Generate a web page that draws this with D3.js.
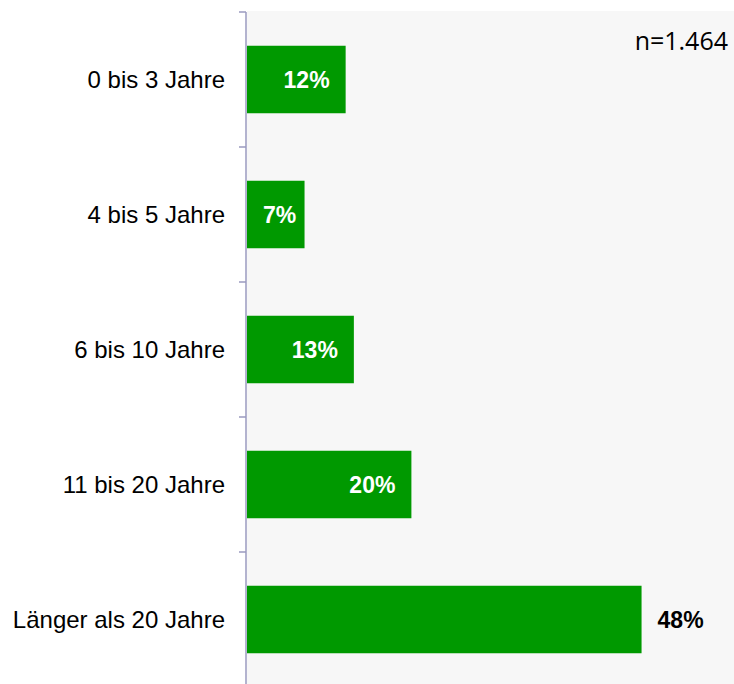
<!DOCTYPE html>
<html>
<head>
<meta charset="utf-8">
<script src="https://cdn.jsdelivr.net/npm/d3@7"></script>
<style>
  body { margin: 0; background: #fff; }
  svg { display: block; }
</style>
</head>
<body>
<div class="chart"></div>
<script>
const categories = [
  "0 bis 3 Jahre",
  "4 bis 5 Jahre",
  "6 bis 10 Jahre",
  "11 bis 20 Jahre",
  "Länger als 20 Jahre",
]
const values = [12, 7, 13, 20, 48]
const sampleNote = "n=1.464"

const width = 734
const height = 684
// plot area (the bottom runs slightly past the picture edge)
const plotLeft = 247
const plotTop = 12
const plotRight = 734
const plotBottom = 687

const svg = d3.select(".chart").append("svg")
  .attr("width", width)
  .attr("height", height)

svg.append("rect")
  .attr("x", plotLeft)
  .attr("y", plotTop - 1)
  .attr("width", plotRight - plotLeft)
  .attr("height", plotBottom - plotTop + 1)
  .attr("fill", "#f7f7f7")

// scales
const scaleX = d3.scaleLinear().domain([0, 60]).range([plotLeft, plotLeft + 8.22 * 60])
const scaleY = d3.scaleBand().domain(categories).range([plotTop, plotBottom]).paddingInner(0.5).paddingOuter(0.25)

// bars
svg.append("g")
  .selectAll("rect")
  .data(values)
  .join("rect")
  .attr("x", scaleX(0))
  .attr("y", (d, i) => scaleY(categories[i]))
  .attr("width", (d) => scaleX(d) - scaleX(0))
  .attr("height", scaleY.bandwidth())
  .attr("fill", "#009900")

// value labels
const labels = svg.append("g")
  .selectAll("text")
  .data(values)
  .join("text")
  .attr("y", (d, i) => scaleY(categories[i]) + scaleY.bandwidth() / 2)
  .attr("dy", "0.35em")
  .attr("font-family", "'Liberation Sans', Arial, sans-serif")
  .attr("font-size", 23)
  .attr("font-weight", "bold")
  .text((d) => d + "%")

labels.each(function (d) {
  const t = d3.select(this)
  const w = this.getComputedTextLength()
  if (d >= 40) {
    t.attr("x", scaleX(d) + 16).attr("text-anchor", "start").attr("fill", "#000")
  } else {
    const x = Math.max(scaleX(d) - 16, scaleX(0) + w + 16)
    t.attr("x", x).attr("text-anchor", "end").attr("fill", "#fff")
  }
})

// y axis
const axis = svg.append("g")
  .attr("transform", `translate(${plotLeft - 1},0)`)

axis.append("line")
  .attr("x1", 0).attr("x2", 0)
  .attr("y1", plotTop).attr("y2", plotBottom)
  .attr("stroke", "#9a9abf")
  .attr("stroke-width", 1.5)

const boundaries = d3.range(categories.length + 1).map((i) => plotTop + i * scaleY.step())
axis.selectAll(".tick")
  .data(boundaries)
  .join("line")
  .attr("class", "tick")
  .attr("x1", -7).attr("x2", 0)
  .attr("y1", (d) => d).attr("y2", (d) => d)
  .attr("stroke", "#9a9abf")
  .attr("stroke-width", 1.5)

axis.selectAll(".cat")
  .data(categories)
  .join("text")
  .attr("class", "cat")
  .attr("x", -21)
  .attr("y", (d) => scaleY(d) + scaleY.bandwidth() / 2)
  .attr("dy", "0.35em")
  .attr("text-anchor", "end")
  .attr("font-family", "'Liberation Sans', Arial, sans-serif")
  .attr("font-size", 24)
  .attr("fill", "#000")
  .text((d) => d)

// sample size
svg.append("text")
  .attr("x", 728)
  .attr("y", 50)
  .attr("text-anchor", "end")
  .attr("font-family", "'Open Sans', sans-serif")
  .attr("font-size", 25)
  .attr("fill", "#000")
  .text(sampleNote)
</script>
</body>
</html>
